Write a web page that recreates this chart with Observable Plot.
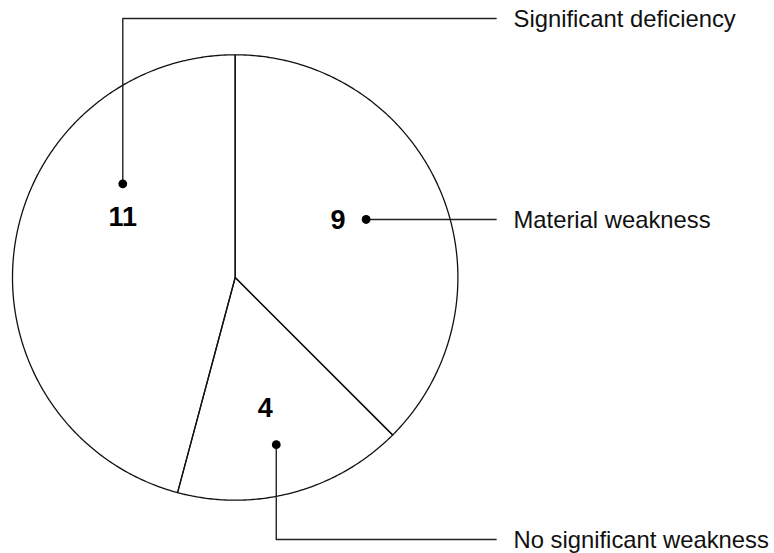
<!DOCTYPE html>
<html>
<head>
<meta charset="utf-8">
<script src="https://cdn.jsdelivr.net/npm/d3@7"></script>
<script src="https://cdn.jsdelivr.net/npm/@observablehq/plot@0.6"></script>
<style>
  html, body { margin: 0; padding: 0; background: #fff; }
  #chart svg { display: block; }
</style>
</head>
<body>
<div id="chart"></div>
<script>
// ---- Data ----
const categories = ["Material weakness", "No significant weakness", "Significant deficiency"];
const values = [9, 4, 11];

// ---- Layout (unit circle coordinates; radius = 1) ----
// where each value's dot sits inside its slice: angle (deg, clockwise from top) and radius fraction
const dotAngle = [66.1, 166.2, 309.8];
const dotRadius = [0.643, 0.773, 0.657];
// leader routing: "h" = straight horizontal, "up"/"down" = vertical then horizontal
const leaderRoute = ["h", "down", "up"];
// number label offsets (px) relative to dot
const numDx = [-28, -11, 0];
const numDy = [0, -37, 33];
const topY = 1.1628, bottomY = -1.1764, lineEndX = 1.1716, textX = 1.2497;

const W = 774, H = 553;
const cx = 234.7, cy = 277, R = 222.7;

// pie geometry from data
const arcs = d3.pie().sort(null).startAngle(0).endAngle(2 * Math.PI)(values);
const slicePts = [];
arcs.forEach((a, i) => {
  slicePts.push({k: categories[i], x: 0, y: 0});
  const n = Math.max(2, Math.ceil((a.endAngle - a.startAngle) / (Math.PI / 360)));
  for (let j = 0; j <= n; j++) {
    const t = a.startAngle + (a.endAngle - a.startAngle) * j / n;
    slicePts.push({k: categories[i], x: Math.sin(t), y: Math.cos(t)});
  }
  slicePts.push({k: categories[i], x: 0, y: 0});
});

const dots = categories.map((c, i) => {
  const t = dotAngle[i] * Math.PI / 180;
  return {k: c, v: values[i], x: dotRadius[i] * Math.sin(t), y: dotRadius[i] * Math.cos(t), dx: numDx[i], dy: numDy[i]};
});

const leaders = [];
const labels = [];
dots.forEach((d, i) => {
  let ly;
  if (leaderRoute[i] === "h") {
    ly = d.y;
    leaders.push({k: d.k, x: d.x, y: d.y}, {k: d.k, x: lineEndX, y: ly});
  } else {
    ly = leaderRoute[i] === "up" ? topY : bottomY;
    leaders.push({k: d.k, x: d.x, y: d.y}, {k: d.k, x: d.x, y: ly}, {k: d.k, x: lineEndX, y: ly});
  }
  labels.push({k: d.k, x: textX, y: ly});
});

const font = "'Liberation Sans', Arial, Helvetica, sans-serif";

const chart = Plot.plot({
  width: W,
  height: H,
  marginLeft: cx - R,
  marginRight: W - (cx + R),
  marginTop: cy - R,
  marginBottom: H - (cy + R),
  x: {domain: [-1, 1], axis: null},
  y: {domain: [-1, 1], axis: null},
  style: {background: "#fff", fontFamily: font},
  marks: [
    Plot.line(slicePts, {x: "x", y: "y", z: "k", stroke: "#111", strokeWidth: 1.3, curve: "linear"}),
    Plot.line(leaders, {x: "x", y: "y", z: "k", stroke: "#222", strokeWidth: 1.4, curve: "linear"}),
    Plot.dot(dots, {x: "x", y: "y", r: 4.4, fill: "#000", stroke: "none"}),
    ...dots.map(d => Plot.text([d], {x: "x", y: "y", text: d => String(d.v), dx: d.dx, dy: d.dy + 1,
      fontSize: 27, fontWeight: "bold", fill: "#000", textAnchor: "middle"})),
    Plot.text(labels, {x: "x", y: "y", text: "k", textAnchor: "start", fontSize: 23.8, fill: "#111", dy: 1})
  ]
});
document.getElementById("chart").appendChild(chart);
</script>
</body>
</html>
